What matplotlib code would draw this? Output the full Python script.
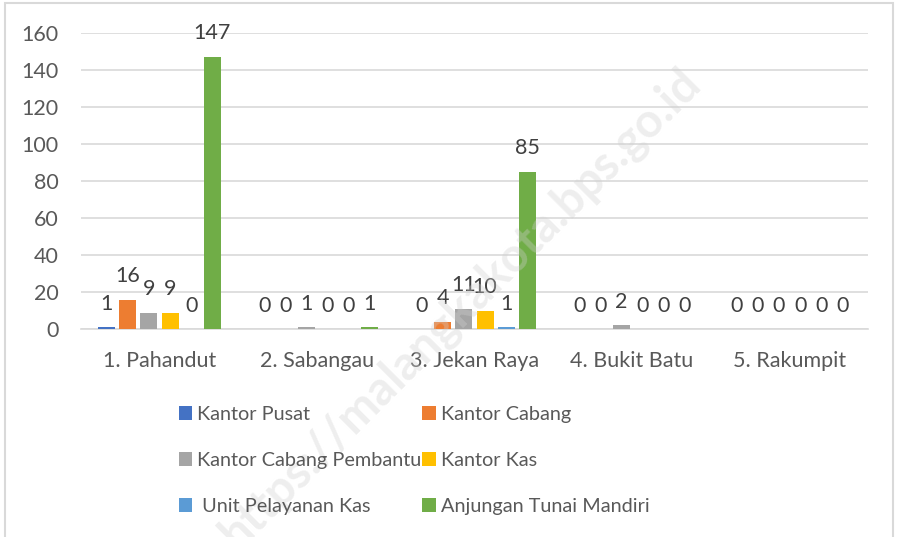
import numpy as np
import matplotlib.pyplot as plt
from matplotlib.patches import Rectangle

plt.rcParams['font.family'] = ['Lato', 'DejaVu Sans']

kecamatan = ["1. Pahandut", "2. Sabangau", "3. Jekan Raya", "4. Bukit Batu", "5. Rakumpit"]
seri = ["Kantor Pusat", "Kantor Cabang", "Kantor Cabang Pembantu", "Kantor Kas",
        " Unit Pelayanan Kas", "Anjungan Tunai Mandiri"]
kantor_pusat = [1, 0, 0, 0, 0]
kantor_cabang = [16, 0, 4, 0, 0]
kantor_cabang_pembantu = [9, 1, 11, 2, 0]
kantor_kas = [9, 0, 10, 0, 0]
unit_pelayanan_kas = [0, 0, 1, 0, 0]
atm = [147, 1, 85, 0, 0]
yticks = [0, 20, 40, 60, 80, 100, 120, 140, 160]

nilai = [kantor_pusat, kantor_cabang, kantor_cabang_pembantu, kantor_kas, unit_pelayanan_kas, atm]
warna = ["#4472c4", "#ed7d31", "#a5a5a5", "#ffc000", "#5b9bd5", "#70ad47"]

fig = plt.figure(figsize=(8.97, 5.37), dpi=100)
ax = fig.add_axes([0.090, 0.387, 0.878, 0.5515])

# bingkai luar
fig.patches.append(Rectangle((0.006, -0.01), 0.99, 1.004, transform=fig.transFigure,
                             fill=False, edgecolor="#d9d9d9", lw=1.5))

# watermark
fig.text(0.513, 0.425, "https://malangkakota.bps.go.id", rotation=45, fontsize=34,
         fontweight="bold", color="#d0d0d0", alpha=0.35, ha="center", va="center", zorder=0)

x = np.arange(len(kecamatan))
step = 0.134
lebar = 0.108
handles = []
for i, (nama, v, c) in enumerate(zip(seri, nilai, warna)):
    pos = x + (i - 2.5) * step
    bars = ax.bar(pos, v, width=lebar, color=c, label=nama, zorder=3)
    handles.append(bars)
    for xb, val in zip(pos, v):
        ax.annotate(str(val), (xb, val), xytext=(0, 17), textcoords="offset points",
                    ha="center", va="center", fontsize=15.5, color="#404040", zorder=4)

ax.set_xlim(-0.5, len(kecamatan) - 0.5)
ax.set_ylim(0, 160)
ax.set_yticks(yticks)
ax.yaxis.grid(True, color="#d9d9d9", lw=1.2, zorder=0)
ax.set_xticks(x)
ax.set_xticklabels(kecamatan)
ax.tick_params(axis="both", length=0, labelsize=15.5, labelcolor="#595959")
ax.tick_params(axis="y", pad=16)
ax.tick_params(axis="x", pad=16)
ax.patch.set_alpha(0)
for s in ["top", "right", "left"]:
    ax.spines[s].set_visible(False)
ax.spines["bottom"].set_color("#d9d9d9")
ax.spines["bottom"].set_linewidth(1.2)

# urutan legenda per baris
urutan = [0, 2, 4, 1, 3, 5]
leg = fig.legend([handles[k] for k in urutan], [seri[k] for k in urutan],
                 loc="upper left", bbox_to_anchor=(0.188, 0.262), ncol=2, frameon=False,
                 fontsize=14.3, handlelength=0.7, handleheight=0.7, handletextpad=0.25,
                 columnspacing=0.0, labelspacing=1.45, borderpad=0, labelcolor="#595959")

fig.savefig("out.png", dpi=100)
